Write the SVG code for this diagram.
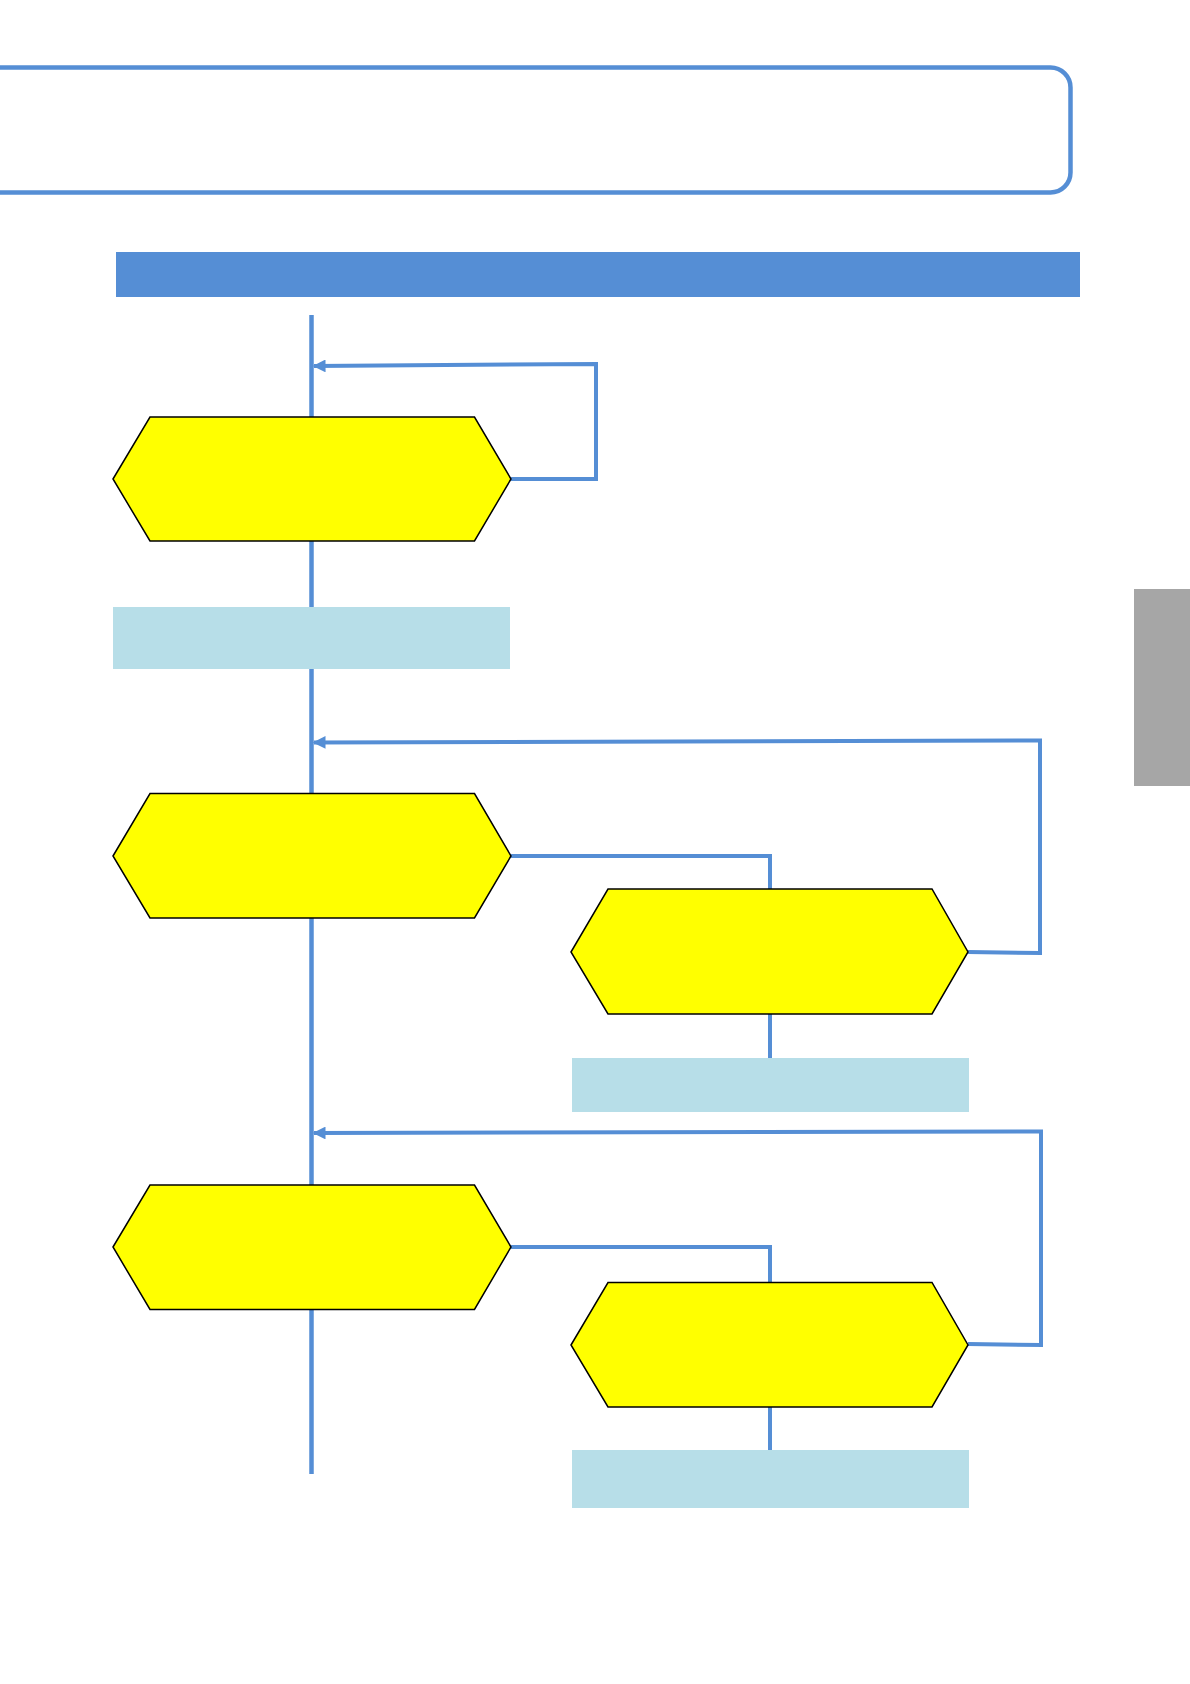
<svg xmlns="http://www.w3.org/2000/svg" width="1190" height="1684" viewBox="0 0 1190 1684">
<defs>
<style>
.hex{fill:#FFFF00;stroke:#000;stroke-width:1.5;stroke-linejoin:miter}
.note{fill:#B7DEE8}
.conn{fill:none;stroke:#558ED5;stroke-width:4;stroke-linejoin:miter}
.main{fill:none;stroke:#558ED5;stroke-width:4.5}
</style>
<marker id="arr" viewBox="0 0 10 10" refX="9" refY="5" markerWidth="3.4" markerHeight="3.2" markerUnits="strokeWidth" orient="auto">
<path d="M0,0 L10,5 L0,10 z" fill="#558ED5"/>
</marker>
</defs>
<rect width="1190" height="1684" fill="#FFFFFF"/>
<g id="header">
<rect x="-40" y="67.5" width="1110.5" height="125" rx="20" ry="20" fill="none" stroke="#558ED5" stroke-width="4.5"/>
<rect x="116" y="252" width="964" height="45" fill="#558ED5"/>
</g>
<g id="side-tab">
<rect x="1134" y="589" width="56" height="197" fill="#A6A6A6"/>
</g>
<g id="connectors">
<line class="main" x1="311.5" y1="315" x2="311.5" y2="1474"/>
<path class="conn" d="M511,479 H596 V364 L314,366" marker-end="url(#arr)"/>
<path class="conn" d="M511,856 H770 V889"/>
<path class="conn" d="M968,952 L1040,953 V740.5 L314,742.5" marker-end="url(#arr)"/>
<line class="conn" x1="770" y1="1014" x2="770" y2="1058"/>
<path class="conn" d="M511,1247 H770 V1283"/>
<path class="conn" d="M968,1344 L1041,1345 V1131.5 L314,1133" marker-end="url(#arr)"/>
<line class="conn" x1="770" y1="1407" x2="770" y2="1450"/>
</g>
<g id="node1">
<polygon class="hex" points="113,479 150,417 474.5,417 511,479 474.5,541 150,541"/>
</g>
<g id="note1">
<rect class="note" x="113" y="607" width="397" height="62"/>
</g>
<g id="node2">
<polygon class="hex" points="113,856 150,793.5 474.5,793.5 511,856 474.5,918 150,918"/>
</g>
<g id="node3">
<polygon class="hex" points="571,952 608,889 932,889 968,952 932,1014 608,1014"/>
</g>
<g id="note2">
<rect class="note" x="572" y="1058" width="397" height="54"/>
</g>
<g id="node4">
<polygon class="hex" points="113,1247 150,1185 474.5,1185 511,1247 474.5,1309.5 150,1309.5"/>
</g>
<g id="node5">
<polygon class="hex" points="571,1345 608,1282.5 932,1282.5 968,1345 932,1407 608,1407"/>
</g>
<g id="note3">
<rect class="note" x="572" y="1450" width="397" height="58"/>
</g>
</svg>
